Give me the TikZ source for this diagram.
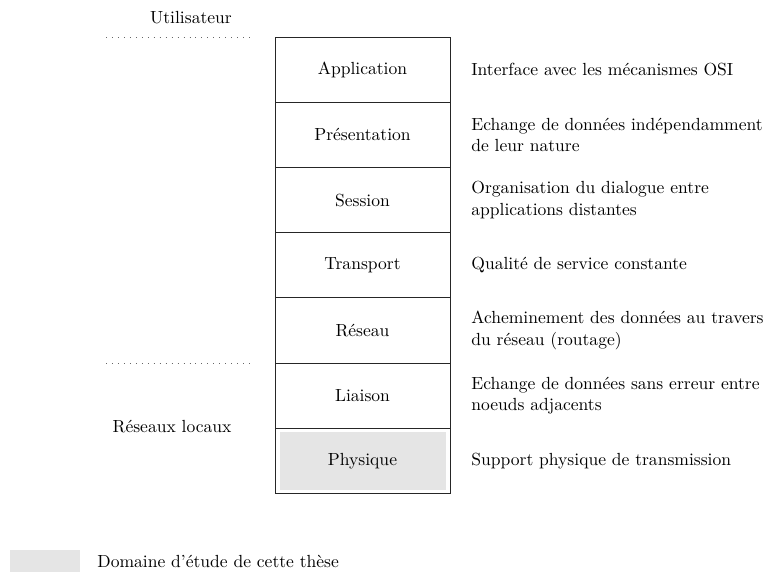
\documentclass[tikz,border=0pt]{standalone}
\usetikzlibrary{calc,backgrounds}
\definecolor{domgray}{HTML}{E5E5E5}
\tikzset{
  layer/.style={draw=black!85, line width=0.45pt, minimum width=175*0.57pt, minimum height=65.2*0.57pt, inner sep=0pt, font=\fontsize{10}{12}\selectfont},
  desc/.style={anchor=west, align=left, inner sep=0pt, font=\fontsize{10}{12}\selectfont},
  lbl/.style={inner sep=0pt, font=\fontsize{10}{12}\selectfont},
  sep/.style={draw=black!60, line width=0.45pt, dash pattern=on 0.45pt off 2.95pt},
}
\begin{document}
\begin{tikzpicture}[x=0.57pt, y=-0.57pt]
\useasboundingbox (0,0) rectangle (772,572);
\node[layer] (app)   at (362.5, 69.6)  {Application};
\node[layer] (pres)  at (362.5, 134.8) {Présentation};
\node[layer] (sess)  at (362.5, 200.0) {Session};
\node[layer] (trans) at (362.5, 265.2) {Transport};
\node[layer] (res)   at (362.5, 330.4) {Réseau};
\node[layer] (liai)  at (362.5, 395.6) {Liaison};
\node[layer] (phys)  at (362.5, 460.8) {Physique};
\begin{scope}[on background layer]
\fill[domgray] ($(phys.north west)+(5,4.5)$) rectangle ($(phys.south east)+(-4,-3.5)$);
\end{scope}
\node[desc] (dapp)   at (471, 69.6)  {Interface avec les mécanismes OSI};
\node[desc] (dpres)  at (471, 134.8) {Echange de données indépendamment\\de leur nature};
\node[desc] (dsess)  at (471, 200.0) {Organisation du dialogue entre\\applications distantes};
\node[desc] (dtrans) at (471, 265.2) {Qualité de service constante};
\node[desc] (dres)   at (471, 330.4) {Acheminement des données au travers\\du réseau (routage)};
\node[desc] (dliai)  at (471, 395.6) {Echange de données sans erreur entre\\noeuds adjacents};
\node[desc] (dphys)  at (471, 460.8) {Support physique de transmission};
\node[lbl] (user) at (191, 18) {Utilisateur};
\node[lbl] (lan) at (172, 427) {Réseaux locaux};
\coordinate (u1) at (106, 37);
\coordinate (u2) at (253, 37);
\coordinate (l1) at (106, 363);
\coordinate (l2) at (253, 363);
\draw[sep] (u1) -- (u2);
\draw[sep] (l1) -- (l2);
\node[fill=domgray, minimum width=70*0.57pt, minimum height=22*0.57pt, inner sep=0pt] (legbox) at (45, 561) {};
\node[desc] (legtxt) at (97, 561) {Domaine d'étude de cette thèse};
\end{tikzpicture}
\end{document}
